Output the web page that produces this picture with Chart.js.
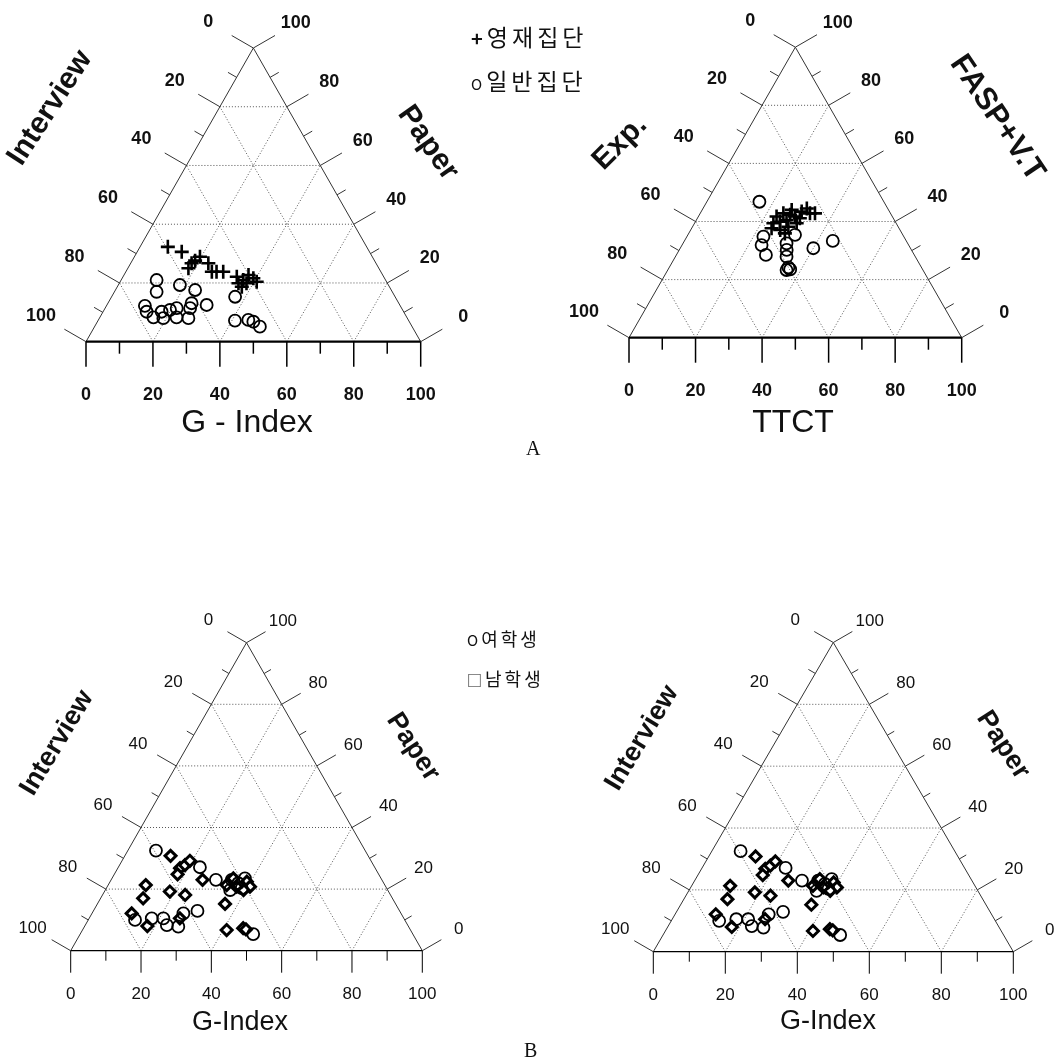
<!DOCTYPE html>
<html>
<head>
<meta charset="utf-8">
<script src="https://cdn.jsdelivr.net/npm/chart.js@4.4.1/dist/chart.umd.min.js"></script>
<style>
body { margin: 0; background: #fff; width: 1060px; height: 1063px; position: relative; overflow: hidden; }
canvas { position: absolute; }
.lg { position: absolute; font-family: "Noto Sans CJK KR"; color: #111; white-space: nowrap; }
.cap { position: absolute; font-family: "Liberation Serif"; font-size: 20px; color: #111; }
</style>
</head>
<body>
<canvas id="a1" width="530" height="460" style="left:0;top:0"></canvas>
<canvas id="a2" width="530" height="460" style="left:530px;top:0"></canvas>
<canvas id="b1" width="530" height="500" style="left:0;top:560px"></canvas>
<canvas id="b2" width="530" height="500" style="left:530px;top:560px"></canvas>

<div class="lg" style="left:471px;top:15px;font-size:23px;letter-spacing:4px;line-height:43px">
  <div><b style="font-size:20px">+</b>영재집단</div>
  <div><span style="font-size:15px">O</span>일반집단</div>
</div>
<div class="lg" style="left:467px;top:619px;font-size:18px;letter-spacing:3px;line-height:39px">
  <div><span style="font-size:15px">O</span>여학생</div>
  <div><span style="font-size:15px">□</span>남학생</div>
</div>
<div class="cap" style="left:526px;top:437px">A</div>
<div class="cap" style="left:524px;top:1039px">B</div>

<script>
// ternary values: G = bottom axis, P = right axis (apex = 100)
// A, left: G-Index / Interview / Paper
const giftedG_A1 = [8.3, 13.3, 18.8, 19.6, 18.1, 23.2, 25.7, 29.1, 34.0, 35.6, 36.5, 37.2, 39.2, 40.8, 37.2, 38.0, 18.2, 27.1];
const giftedP_A1 = [32.3, 30.6, 27.6, 28.9, 25.0, 26.7, 23.8, 23.8, 22.1, 19.9, 21.0, 22.7, 21.6, 20.4, 18.7, 19.9, 26.7, 23.8];
const generalG_A1 = [10.6, 12.6, 18.4, 23.8, 11.5, 13.0, 16.0, 17.5, 19.1, 21.4, 22.9, 26.6, 25.4, 25.0, 29.8, 36.9, 40.9, 44.8, 46.6, 49.4, 19.7];
const generalP_A1 = [21.0, 17.0, 19.3, 17.6, 12.2, 10.2, 8.3, 10.2, 8.0, 11.4, 8.3, 8.0, 11.4, 13.1, 12.5, 15.3, 7.2, 7.4, 6.8, 5.1, 10.8];

// A, right: TTCT / Exp. / FASP+V.T
const giftedG_A2 = [23.7, 23.5, 25.4, 25.0, 27.1, 28.8, 26.9, 29.0, 30.7, 30.2, 31.2, 33.0, 34.5, 26.9, 28.9, 24.0, 27.3, 30.8];
const giftedP_A2 = [39.4, 41.7, 39.9, 42.8, 40.5, 38.2, 44.0, 41.7, 39.4, 43.4, 44.5, 42.8, 42.8, 37.1, 35.9, 37.7, 42.3, 41.1];
const generalG_A2 = [15.8, 23.0, 23.9, 26.9, 31.1, 32.2, 32.3, 33.4, 35.8, 35.7, 40.0, 44.6, 36.7];
const generalP_A2 = [46.8, 34.8, 31.9, 28.5, 32.5, 35.4, 30.2, 27.9, 24.2, 23.3, 30.8, 33.3, 23.5];

// B: female / male students, G-Index / Interview / Paper
const femaleG = [8.0, 23.2, 29.8, 13.3, 17.8, 21.1, 23.2, 26.7, 26.0, 29.6, 49.2, 34.3, 36.7, 38.5, 35.5, 37.8];
const femaleP = [32.5, 27.1, 23.0, 10.0, 10.5, 10.5, 8.3, 7.8, 12.1, 12.9, 5.4, 23.0, 21.9, 20.3, 19.7, 23.5];
const maleG = [13.0, 17.7, 18.6, 19.3, 18.0, 26.0, 10.7, 12.1, 18.6, 23.5, 11.3, 17.8, 25.8, 36.3, 41.0, 45.4, 46.4, 34.5, 36.8, 38.9, 40.6, 33.7, 39.3];
const maleP = [30.8, 26.8, 27.8, 29.2, 24.8, 23.0, 21.3, 17.0, 19.2, 18.1, 12.1, 8.0, 10.5, 15.2, 6.7, 7.3, 6.9, 23.5, 20.8, 22.4, 20.8, 21.3, 19.7];

const gridSteps = [20, 40, 60, 80];
const tickSteps = [0, 10, 20, 30, 40, 50, 60, 70, 80, 90, 100];

// ternary -> x/y in chart units (x along base, y = height level)
function toXY(g, p) {
    return g.map((v, i) => ({ x: v + p[i] / 2, y: p[i] }));
}

const ternaryFrame = {
    id: 'ternaryFrame',
    beforeDatasetsDraw(chart, args, o) {
        const ctx = chart.ctx;
        const xs = chart.scales.x, ys = chart.scales.y;
        const pt = (g, p) => [xs.getPixelForValue(g + p / 2), ys.getPixelForValue(p)];
        const line = (a, b) => { ctx.beginPath(); ctx.moveTo(a[0], a[1]); ctx.lineTo(b[0], b[1]); ctx.stroke(); };
        const c30 = Math.cos(Math.PI / 6), s30 = Math.sin(Math.PI / 6);
        ctx.save();

        // dotted grid
        ctx.strokeStyle = '#555';
        ctx.lineWidth = 1;
        ctx.setLineDash([1, 2]);
        gridSteps.forEach(v => {
            line(pt(0, v), pt(100 - v, v));
            line(pt(v, 0), pt(v, 100 - v));
            line(pt(v, 0), pt(0, v));
        });
        ctx.setLineDash([]);

        // sides + base
        ctx.strokeStyle = o.sideColor;
        ctx.lineWidth = 1;
        line(pt(0, 0), pt(0, 100));
        line(pt(100, 0), pt(0, 100));
        ctx.strokeStyle = '#000';
        ctx.lineWidth = o.baseWidth;
        line(pt(0, 0), pt(100, 0));

        // ticks
        ctx.lineWidth = 1;
        ctx.strokeStyle = o.sideColor;
        tickSteps.forEach(v => {
            const len = v % 20 === 0 ? o.majorLen : o.minorLen;
            const l = pt(0, v), r = pt(100 - v, v);
            line(l, [l[0] - c30 * len, l[1] - s30 * len]);
            line(r, [r[0] + c30 * len, r[1] - s30 * len]);
        });
        ctx.strokeStyle = '#000';
        ctx.lineWidth = o.bottomTickWidth;
        tickSteps.forEach(v => {
            const b = pt(v, 0);
            line(b, [b[0], b[1] + (v % 20 === 0 ? o.bottomMajor : o.bottomMinor)]);
        });

        // tick labels
        ctx.fillStyle = '#111';
        ctx.font = o.tickFont;
        ctx.textAlign = 'center';
        ctx.textBaseline = 'middle';
        tickSteps.filter(v => v % 20 === 0).forEach(v => {
            const l = pt(0, v), r = pt(100 - v, v), b = pt(v, 0);
            ctx.fillText(String(100 - v), l[0] - c30 * o.leftDist, l[1] - s30 * o.leftDist);
            ctx.fillText(String(v), r[0] + c30 * o.rightDist, r[1] - s30 * o.rightDist);
            ctx.fillText(String(v), b[0], b[1] + o.bottomDist);
        });

        // axis titles
        o.titles.forEach(t => {
            ctx.save();
            ctx.translate(t.x, t.y);
            ctx.rotate(t.rot * Math.PI / 180);
            ctx.font = t.font;
            ctx.fillText(t.text, 0, 0);
            ctx.restore();
        });
        ctx.restore();
    }
};

function makeTernary(id, pad, frame, datasets) {
    return new Chart(document.getElementById(id), {
        type: 'scatter',
        data: { datasets: datasets },
        options: {
            responsive: false,
            animation: false,
            layout: { padding: pad },
            scales: {
                x: { type: 'linear', min: 0, max: 100, display: false },
                y: { type: 'linear', min: 0, max: 100, display: false }
            },
            plugins: {
                legend: { display: false },
                tooltip: { enabled: false },
                ternaryFrame: frame
            }
        },
        plugins: [ternaryFrame]
    });
}

const styleA = {
    sideColor: '#333', baseWidth: 2.2, majorLen: 25, minorLen: 10,
    bottomMajor: 25, bottomMinor: 12, bottomTickWidth: 1.5,
    tickFont: 'bold 18px "Liberation Sans"', leftDist: 52, rightDist: 49, bottomDist: 53
};
const styleB = {
    sideColor: '#333', baseWidth: 1.3, majorLen: 22, minorLen: 8,
    bottomMajor: 22, bottomMinor: 10, bottomTickWidth: 1,
    tickFont: '17px "Liberation Sans"', leftDist: 44, rightDist: 42, bottomDist: 44
};

function plusSet(g, p) {
    return { data: toXY(g, p), pointStyle: 'cross', pointRadius: 7, pointBorderWidth: 2.6,
             pointBorderColor: '#000', showLine: false, clip: false };
}
function circleSet(g, p) {
    return { data: toXY(g, p), pointStyle: 'circle', pointRadius: 6, pointBorderWidth: 1.8,
             pointBorderColor: '#000', pointBackgroundColor: 'rgba(0,0,0,0)', showLine: false, clip: false };
}
function diamondSet(g, p) {
    return { data: toXY(g, p), pointStyle: 'rectRot', pointRadius: 5.5, pointBorderWidth: 3,
             pointBorderColor: '#000', pointBackgroundColor: '#fff', showLine: false, clip: false };
}

makeTernary('a1', { left: 86, right: 109.3, top: 48, bottom: 118.3 },
    Object.assign({}, styleA, { titles: [
        { text: 'Interview', x: 50, y: 108, rot: -57, font: 'bold 30px "Liberation Sans"' },
        { text: 'Paper', x: 428, y: 143, rot: 55, font: 'bold 30px "Liberation Sans"' },
        { text: 'G - Index', x: 247, y: 423, rot: 0, font: '32px "Liberation Sans"' }
    ] }),
    [circleSet(generalG_A1, generalP_A1), plusSet(giftedG_A1, giftedP_A1)]);

makeTernary('a2', { left: 99, right: 98.3, top: 47.2, bottom: 122.3 },
    Object.assign({}, styleA, { titles: [
        { text: 'Exp.', x: 90, y: 143, rot: -45, font: 'bold 30px "Liberation Sans"' },
        { text: 'FASP+V.T', x: 467, y: 118, rot: 56, font: 'bold 31px "Liberation Sans"' },
        { text: 'TTCT', x: 263, y: 423, rot: 0, font: '32px "Liberation Sans"' }
    ] }),
    [circleSet(generalG_A2, generalP_A2), plusSet(giftedG_A2, giftedP_A2)]);

makeTernary('b1', { left: 70.7, right: 107.7, top: 82.7, bottom: 109.3 },
    Object.assign({}, styleB, { titles: [
        { text: 'Interview', x: 57, y: 183, rot: -59, font: 'bold 27px "Liberation Sans"' },
        { text: 'Paper', x: 413, y: 187, rot: 57, font: 'bold 27px "Liberation Sans"' },
        { text: 'G-Index', x: 240, y: 463, rot: 0, font: '27px "Liberation Sans"' }
    ] }),
    [circleSet(femaleG, femaleP), diamondSet(maleG, maleP)]);

makeTernary('b2', { left: 123.3, right: 46.7, top: 82.5, bottom: 108.3 },
    Object.assign({}, styleB, { titles: [
        { text: 'Interview', x: 112, y: 178, rot: -59, font: 'bold 27px "Liberation Sans"' },
        { text: 'Paper', x: 473, y: 185, rot: 57, font: 'bold 27px "Liberation Sans"' },
        { text: 'G-Index', x: 298, y: 462, rot: 0, font: '27px "Liberation Sans"' }
    ] }),
    [circleSet(femaleG, femaleP), diamondSet(maleG, maleP)]);
</script>
</body>
</html>
